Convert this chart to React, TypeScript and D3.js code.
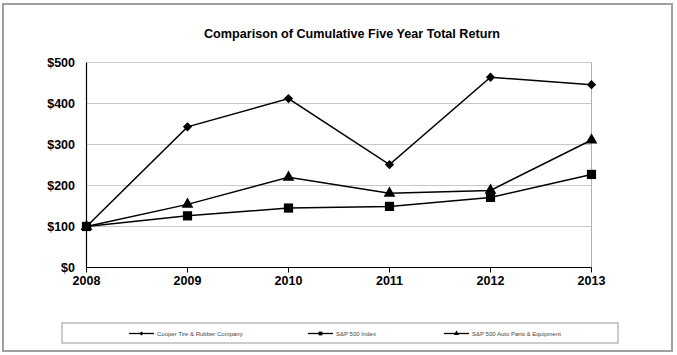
import React from "react";
import * as d3 from "d3";

const years = [2008, 2009, 2010, 2011, 2012, 2013];
const cooper = [100, 343, 412, 251, 464, 446];
const sp500 = [100, 126, 145, 149, 171, 227];
const autoParts = [100, 154, 220, 181, 188, 311];
const yTicks = [0, 100, 200, 300, 400, 500];
const seriesNames = ["Cooper Tire & Rubber Company", "S&P 500 Index", "S&P 500 Auto Parts & Equipment"];
const title = "Comparison of Cumulative Five Year Total Return";

const W = 677, H = 355;
const FONT = "'Liberation Sans', Arial, sans-serif";

export default function App() {
  const x = d3.scaleLinear().domain([2008, 2013]).range([86.5, 591.5]);
  const y = d3.scaleLinear().domain([0, 500]).range([267.5, 62.5]);
  const line = d3.line<number>().x((_, i) => x(years[i])).y((v) => y(v));

  const series = [
    { name: seriesNames[0], values: cooper, sym: d3.symbolDiamond2, size: 55, lsize: 10 },
    { name: seriesNames[1], values: sp500, sym: d3.symbolSquare, size: 85, lsize: 14 },
    { name: seriesNames[2], values: autoParts, sym: d3.symbolTriangle, size: 60, lsize: 12 },
  ];
  const legendX = [129, 308, 444];

  return (
    <svg width={W} height={H} style={{ position: "absolute", left: 0, top: 0 }} fontFamily={FONT}>
      <rect x={0} y={0} width={W} height={H} fill="#fff" />
      <rect x={3} y={4} width={669} height={347} fill="none" stroke="#a0a0a0" strokeWidth={2} />
      <text x={352} y={38} textAnchor="middle" fontSize={13.5} fontWeight="bold" fill="#000"
        textLength={296} lengthAdjust="spacingAndGlyphs">{title}</text>
      {/* gridlines */}
      {yTicks.map((t) => (
        <line key={t} x1={x(2008)} x2={x(2013)} y1={y(t)} y2={y(t)} stroke="#c8c8c8" strokeWidth={1} />
      ))}
      <line x1={x(2013)} x2={x(2013)} y1={y(500)} y2={y(0)} stroke="#b0b0b0" strokeWidth={1} />
      {/* axes */}
      <line x1={x(2008)} x2={x(2008)} y1={y(500)} y2={y(0)} stroke="#000" strokeWidth={1.2} />
      <line x1={x(2008)} x2={x(2013)} y1={y(0)} y2={y(0)} stroke="#000" strokeWidth={1.2} />
      {yTicks.map((t) => (
        <text key={"yl" + t} x={75} y={y(t) + 4.5} textAnchor="end" fontSize={12.5} fontWeight="bold">{"$" + t}</text>
      ))}
      {years.map((yr) => (
        <g key={yr}>
          <line x1={x(yr)} x2={x(yr)} y1={y(0)} y2={y(0) + 5} stroke="#000" strokeWidth={1} />
          <text x={x(yr)} y={285} textAnchor="middle" fontSize={12.5} fontWeight="bold">{yr}</text>
        </g>
      ))}
      {/* series */}
      {series.map((s) => (
        <g key={s.name}>
          <path d={line(s.values) || ""} fill="none" stroke="#000" strokeWidth={1.5} />
          {s.values.map((v, i) => (
            <path key={i} d={d3.symbol().type(s.sym).size(s.size)() || ""} transform={`translate(${x(years[i])},${y(v)})`} fill="#000" />
          ))}
        </g>
      ))}
      {/* legend */}
      <rect x={62} y={323} width={556} height={20} fill="#fff" stroke="#999" strokeWidth={1} />
      {series.map((s, i) => (
        <g key={"lg" + i}>
          <line x1={legendX[i]} x2={legendX[i] + 25} y1={333.5} y2={333.5} stroke="#000" strokeWidth={1.3} />
          <path d={d3.symbol().type(s.sym).size(s.lsize)() || ""} transform={`translate(${legendX[i] + 12.5},333.5)`} fill="#000" />
          <text x={legendX[i] + 28} y={335.8} fontSize={6} fill="#444">{s.name}</text>
        </g>
      ))}
    </svg>
  );
}
